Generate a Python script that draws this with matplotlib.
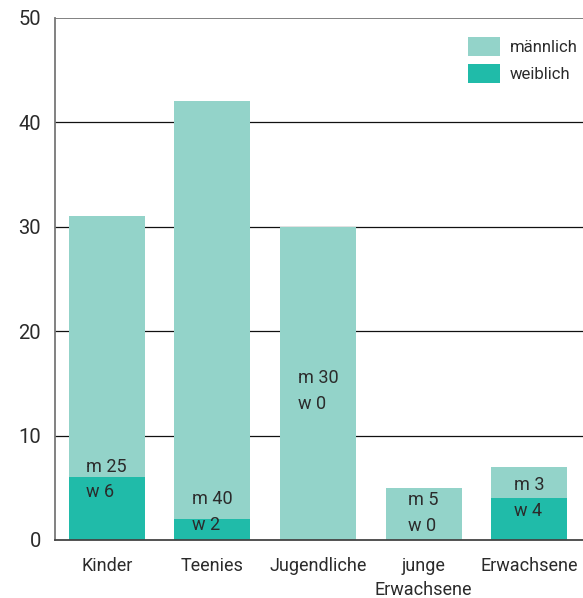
import matplotlib.pyplot as plt
import numpy as np

categories = ["Kinder", "Teenies", "Jugendliche", "junge\nErwachsene", "Erwachsene"]
maennlich = [25, 40, 30, 5, 3]
weiblich = [6, 2, 0, 0, 4]
yticks = [0, 10, 20, 30, 40, 50]

# vertical centre of the "m / w" label in each bar (data units)
label_y = [5.8, 2.7, 14.3, 2.6, 4.0]

LIGHT = "#93d3c9"
DARK = "#20bba9"

plt.rcParams["font.family"] = ["Roboto", "DejaVu Sans"]

fig = plt.figure(figsize=(5.83, 5.98), dpi=100)
ax = fig.add_axes([0.0943, 0.097, 0.9057, 0.873])

x = np.arange(len(categories))
w = np.array(weiblich)
m = np.array(maennlich)

ax.bar(x, w, width=0.72, color=DARK, label="weiblich", zorder=3)
ax.bar(x, m, width=0.72, bottom=w, color=LIGHT, label="männlich", zorder=3)

for xi, mi, wi, ly in zip(x, maennlich, weiblich, label_y):
    ax.text(xi, ly, f"m {mi}\nw {wi}", ha="center", va="center",
            multialignment="left", fontsize=13, color="#2b2b2b",
            linespacing=1.55, zorder=4)

for t in yticks[1:-1]:
    ax.axhline(t, color="#111111", linewidth=0.9, zorder=1)
ax.axhline(yticks[-1], color="#777777", linewidth=1.3, zorder=1)

ax.set_xlim(-0.49, 4.51)
ax.set_ylim(0, 50)
ax.set_yticks(yticks)
ax.set_xticks(x)
ax.set_xticklabels(categories, fontsize=13, color="#2b2b2b", linespacing=1.45)
ax.tick_params(axis="y", length=0, pad=10, labelsize=14.5, labelcolor="#2b2b2b")
ax.tick_params(axis="x", length=0, pad=12)

for side in ["top", "right"]:
    ax.spines[side].set_visible(False)
ax.spines["left"].set_color("#777777")
ax.spines["left"].set_linewidth(1.3)
ax.spines["bottom"].set_color("#444444")
ax.spines["bottom"].set_linewidth(1.3)
ax.spines["bottom"].set_zorder(5)

handles, labels = ax.get_legend_handles_labels()
ax.legend(handles[::-1], labels[::-1], loc="upper right", frameon=False,
          fontsize=12, handlelength=1.92, handleheight=1.38,
          handletextpad=0.6, labelspacing=0.48,
          borderpad=0, borderaxespad=0,
          bbox_to_anchor=(0.99, 0.964), labelcolor="#2b2b2b")

fig.savefig("out.png", dpi=100)
